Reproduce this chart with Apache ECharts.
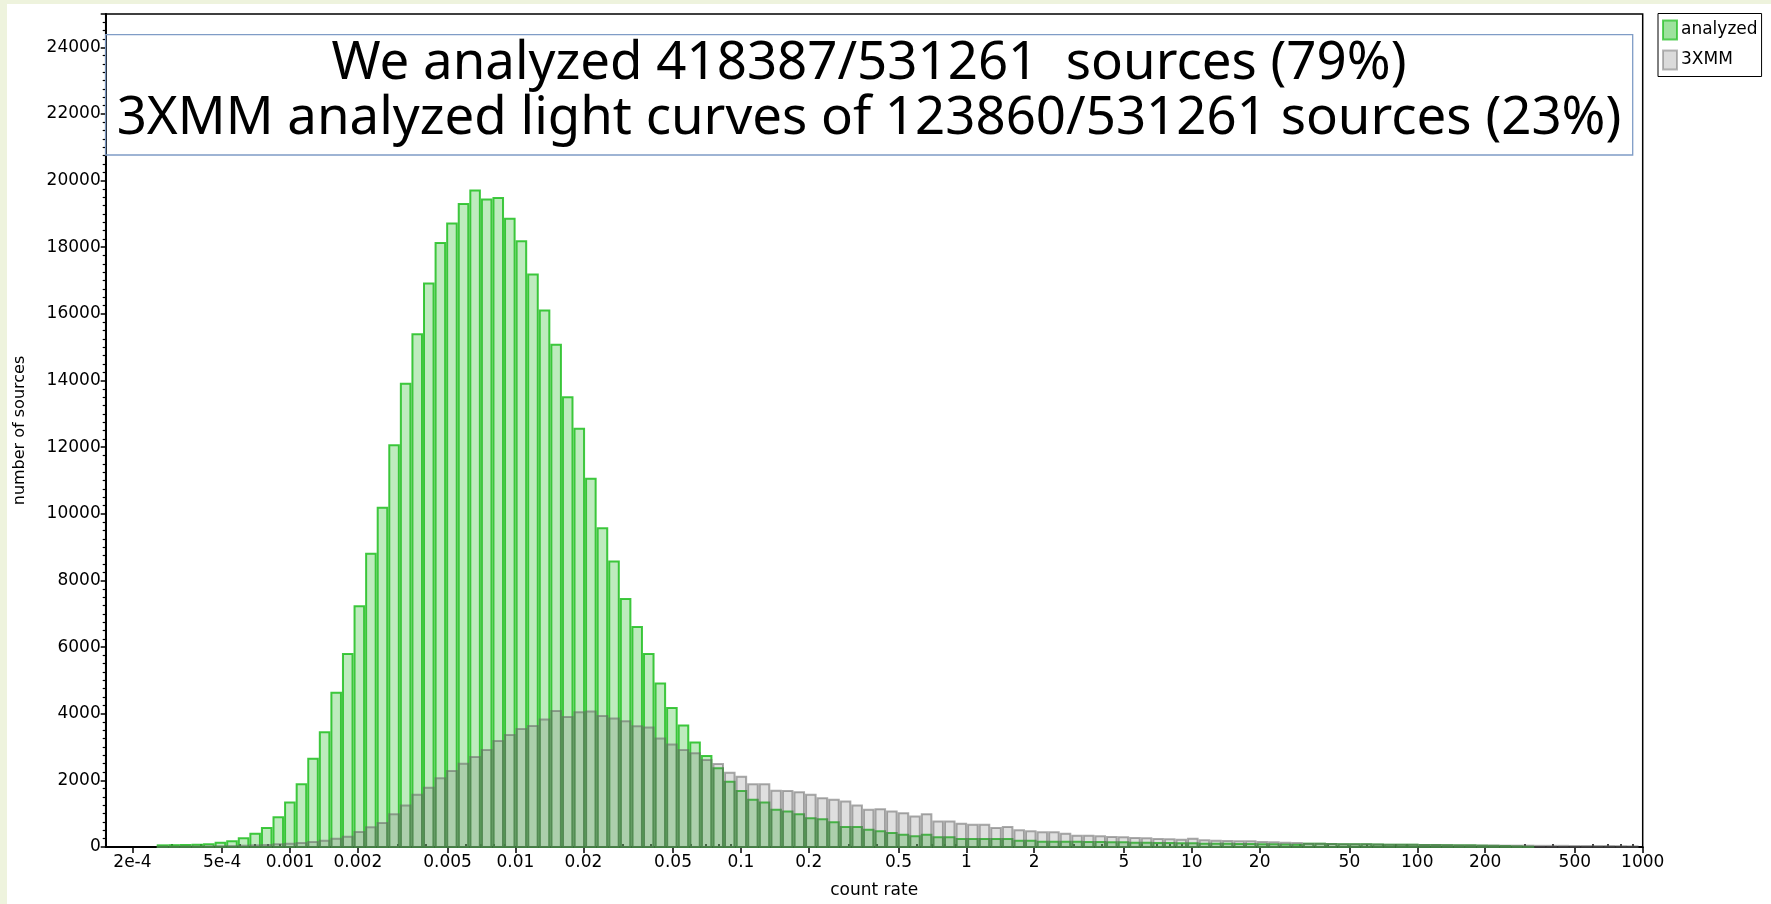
<!DOCTYPE html>
<html>
<head>
<meta charset="utf-8">
<script src="https://cdn.jsdelivr.net/npm/echarts@6/dist/echarts.min.js"></script>
<style>
  html, body { margin: 0; padding: 0; width: 1771px; height: 904px; overflow: hidden; background: #eef3dd; }
  #chart { position: absolute; left: 0; top: 0; width: 1771px; height: 904px; }
</style>
</head>
<body>
<div id="chart"></div>
<script>
// Histogram binning: equal widths in log10(count rate)
const binStartLog = -3.5912;
const binWidthLog = 0.05135;

// Number of sources per bin, sources we analyzed
const analyzed = [
  50, 55, 60, 65, 80, 130, 170, 260, 400, 570,
  890, 1335, 1880, 2650, 3445, 4630, 5790, 7225, 8800, 10185,
  12060, 13900, 15390, 16910, 18130, 18715, 19300, 19700, 19430, 19480,
  18855, 18180, 17180, 16100, 15070, 13495, 12550, 11050, 9565, 8570,
  7445, 6600, 5790, 4905, 4175, 3650, 3137, 2730, 2360, 1960,
  1680, 1415, 1335, 1115, 1065, 985, 865, 835, 745, 600,
  600, 520, 470, 420, 370, 320, 370, 290, 290, 240,
  240, 240, 240, 240, 190, 190, 160, 160, 160, 160,
  150, 150, 140, 140, 130, 130, 120, 120, 110, 110,
  100, 100, 95, 90, 90, 80, 80, 75, 70, 100,
  95, 90, 85, 80, 80, 75, 70, 70, 65, 60,
  60, 55, 50, 50, 40, 35, 30, 20, 10, 0,
  0, 0, 0, 0, 0, 0, 0, 0
];

// Number of sources per bin whose light curves 3XMM analyzed
const xmm3 = [
  10, 10, 15, 15, 20, 25, 30, 40, 50, 60,
  80, 100, 120, 150, 190, 250, 310, 450, 590, 720,
  985, 1245, 1565, 1780, 2060, 2280, 2500, 2700, 2910, 3180,
  3365, 3545, 3635, 3825, 4085, 3905, 4045, 4065, 3935, 3855,
  3775, 3625, 3585, 3255, 3075, 2910, 2810, 2610, 2490, 2230,
  2110, 1880, 1880, 1690, 1680, 1645, 1565, 1465, 1415, 1365,
  1245, 1115, 1135, 1065, 1015, 915, 985, 765, 765, 700,
  665, 665, 570, 600, 500, 470, 440, 440, 400, 340,
  340, 320, 300, 290, 270, 260, 240, 230, 220, 250,
  200, 190, 180, 170, 170, 150, 140, 130, 120, 100,
  95, 90, 85, 80, 80, 75, 70, 70, 65, 60,
  60, 55, 50, 50, 45, 45, 40, 40, 40, 35,
  35, 35, 30, 30, 30, 30, 25, 20
];

// Labelled count-rate ticks
const majorTicks = [2e-4, 5e-4, 0.001, 0.002, 0.005, 0.01, 0.02, 0.05, 0.1, 0.2, 0.5,
                    1, 2, 5, 10, 20, 50, 100, 200, 500, 1000];
const majorTickLabels = ['2e-4', '5e-4', '0.001', '0.002', '0.005', '0.01', '0.02', '0.05', '0.1', '0.2', '0.5',
                         '1', '2', '5', '10', '20', '50', '100', '200', '500', '1000'];
// Unlabelled ticks between them
const minorMultipliers = [3, 4, 6, 7, 8, 9];
const minorDecades = [-4, -3, -2, -1, 0, 1, 2];

const titleLines = [
  'We analyzed 418387/531261  sources (79%)',
  '3XMM analyzed light curves of 123860/531261 sources (23%)'
];

const xMin = 1.522e-4;
const xMax = 1000;

const minorTicks = [];
minorDecades.forEach(d => minorMultipliers.forEach(m => {
  const v = m * Math.pow(10, d);
  if (v > xMin && v < xMax) minorTicks.push(v);
}));

function toBins(counts) {
  const out = [];
  counts.forEach((c, i) => {
    if (c <= 0) return;
    const lo = Math.pow(10, binStartLog + i * binWidthLog);
    const hi = Math.pow(10, binStartLog + (i + 1) * binWidthLog);
    out.push([lo, hi, c]);
  });
  return out;
}

function barRenderer(fill, stroke) {
  return function (params, api) {
    const p0 = api.coord([api.value(0), api.value(2)]);
    const p1 = api.coord([api.value(1), 0]);
    return {
      type: 'rect',
      shape: { x: p0[0] + 1, y: p0[1], width: p1[0] - p0[0] - 2, height: p1[1] - p0[1] },
      style: { fill: fill, stroke: stroke, lineWidth: 2 }
    };
  };
}

function labelFor(val) {
  const lv = Math.log10(val);
  for (let i = 0; i < majorTicks.length; i++) {
    if (Math.abs(Math.log10(majorTicks[i]) - lv) < 1e-6) return majorTickLabels[i];
  }
  return '';
}

// size the annotation font so the longer line spans the box
const titleFont = 'Noto Sans';
function fitTitleSize(text, targetWidth) {
  const ctx = document.createElement('canvas').getContext('2d');
  ctx.font = '100px "' + titleFont + '"';
  const w = ctx.measureText(text).width;
  return Math.min(54, 100 * targetWidth / w);
}
const titleSize = fitTitleSize(titleLines[1], 1505);

const greenFill = 'rgba(40, 190, 40, 0.30)';
const greenStroke = 'rgba(30, 190, 30, 0.85)';
const greyFill = 'rgba(110, 110, 110, 0.22)';
const greyStroke = 'rgba(100, 100, 100, 0.55)';
const axisFont = 'DejaVu Sans';

const chart = echarts.init(document.getElementById('chart'), null, { renderer: 'canvas' });

chart.setOption({
  animation: false,
  backgroundColor: 'transparent',
  graphic: [
    // white page area inside the slide margin
    { type: 'rect', z: -10, shape: { x: 7, y: 4, width: 1764, height: 900 }, style: { fill: '#ffffff' } },
    // annotation box
    { type: 'rect', z: 5, shape: { x: 105.7, y: 34.7, width: 1527, height: 120.3 },
      style: { fill: 'rgba(255,255,255,0)', stroke: '#7f9cc6', lineWidth: 1.3 } },
    { type: 'text', z: 6, style: {
        x: 869, y: 64, text: titleLines[0],
        fontFamily: titleFont, fontSize: titleSize, fill: '#000', align: 'center', verticalAlign: 'middle' } },
    { type: 'text', z: 6, style: {
        x: 869, y: 119, text: titleLines[1],
        fontFamily: titleFont, fontSize: titleSize, fill: '#000', align: 'center', verticalAlign: 'middle' } }
  ],
  legend: {
    orient: 'vertical',
    left: 1658, top: 13.5,
    padding: [6, 4, 6, 4],
    itemGap: 9,
    itemWidth: 14, itemHeight: 19,
    icon: 'rect',
    backgroundColor: '#fff',
    borderColor: '#000', borderWidth: 1, borderRadius: 0,
    textStyle: { fontFamily: axisFont, fontSize: 17, color: '#000', padding: [0, 0, 0, -1] },
    data: [
      { name: 'analyzed', itemStyle: { color: 'rgba(40,190,40,0.45)', borderColor: 'rgba(30,190,30,0.7)', borderWidth: 2 } },
      { name: '3XMM', itemStyle: { color: 'rgba(110,110,110,0.25)', borderColor: 'rgba(100,100,100,0.45)', borderWidth: 2 } }
    ]
  },
  grid: {
    left: 105.7, right: 128.3, top: 14, bottom: 53.3,
    show: true, borderColor: '#000', borderWidth: 1.5, backgroundColor: 'rgba(0,0,0,0)'
  },
  xAxis: [
    {
      type: 'log', logBase: 10, min: xMin, max: xMax,
      name: 'count rate', nameLocation: 'middle', nameGap: 35,
      nameTextStyle: { fontFamily: axisFont, fontSize: 17, color: '#000' },
      axisLine: { show: true, lineStyle: { color: '#000', width: 2 } },
      axisTick: { show: true, customValues: majorTicks, length: 6, lineStyle: { color: '#000', width: 1.5 } },
      minorTick: { show: false },
      splitLine: { show: false },
      axisLabel: { customValues: majorTicks, formatter: labelFor, fontFamily: axisFont, fontSize: 17, color: '#000', margin: 7 }
    },
    {
      type: 'log', logBase: 10, min: xMin, max: xMax, position: 'bottom',
      axisLine: { show: false },
      axisTick: { show: true, inside: true, customValues: minorTicks, length: 3, lineStyle: { color: '#000', width: 1.5 } },
      axisLabel: { show: false },
      splitLine: { show: false }
    }
  ],
  yAxis: {
    type: 'value', min: 0, max: 25000, interval: 2000,
    name: 'number of sources', nameLocation: 'middle', nameGap: 78, nameRotate: 90,
    nameTextStyle: { fontFamily: axisFont, fontSize: 16, color: '#000' },
    axisLine: { show: true, lineStyle: { color: '#000', width: 2 } },
    axisTick: { show: true, length: 5, lineStyle: { color: '#000', width: 1.5 } },
    minorTick: { show: true, splitNumber: 8, length: 3, lineStyle: { color: '#000', width: 1.2 } },
    splitLine: { show: false },
    axisLabel: {
      fontFamily: axisFont, fontSize: 17, color: '#000', margin: 5,
      formatter: v => (v > 24000 ? '' : String(v))
    }
  },
  series: [
    {
      name: 'analyzed', type: 'custom', xAxisIndex: 0,
      renderItem: barRenderer(greenFill, greenStroke),
      itemStyle: { color: greenFill },
      encode: { x: [0, 1], y: 2 },
      data: toBins(analyzed), z: 2
    },
    {
      name: '3XMM', type: 'custom', xAxisIndex: 0,
      renderItem: barRenderer(greyFill, greyStroke),
      itemStyle: { color: greyFill },
      encode: { x: [0, 1], y: 2 },
      data: toBins(xmm3), z: 3
    }
  ]
});
</script>
</body>
</html>
